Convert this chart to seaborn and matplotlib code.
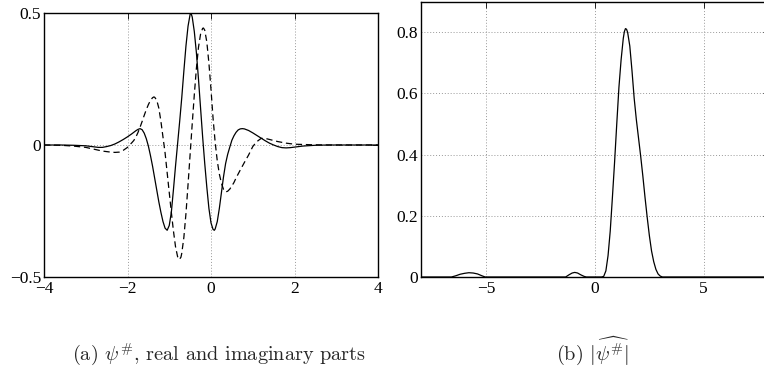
import matplotlib
matplotlib.use("Agg")
import matplotlib.pyplot as plt
import seaborn as sns

# (a) psi#, real part (solid) and imaginary part (dashed)
re_x = [-4.0, -3.6, -3.3, -3.0, -2.8, -2.7, -2.6, -2.5, -2.4, -2.3, -2.2, -2.1, -2.0,
        -1.9, -1.8, -1.75, -1.7, -1.65, -1.6, -1.55, -1.5, -1.45, -1.4, -1.35, -1.3,
        -1.25, -1.2, -1.15, -1.1, -1.05, -1.0, -0.95, -0.9, -0.85, -0.8, -0.75, -0.7,
        -0.65, -0.6, -0.55, -0.5, -0.48, -0.45, -0.4, -0.35, -0.3, -0.25, -0.2, -0.15,
        -0.1, -0.05, 0.0, 0.05, 0.08, 0.1, 0.15, 0.2, 0.25, 0.3, 0.35, 0.4, 0.45, 0.5,
        0.55, 0.6, 0.65, 0.7, 0.75, 0.8, 0.9, 1.0, 1.1, 1.2, 1.3, 1.4, 1.5, 1.6, 1.7,
        1.8, 1.9, 2.0, 2.2, 2.5, 2.8, 4.0]
re_y = [0.0, 0.0, -0.001, -0.003, -0.007, -0.009, -0.009, -0.006, -0.002, 0.004, 0.012,
        0.021, 0.031, 0.042, 0.054, 0.059, 0.062, 0.058, 0.045, 0.024, -0.004, -0.04,
        -0.08, -0.125, -0.17, -0.215, -0.255, -0.29, -0.315, -0.323, -0.305, -0.255,
        -0.17, -0.08, 0.005, 0.09, 0.18, 0.28, 0.375, 0.45, 0.495, 0.5, 0.485, 0.43,
        0.35, 0.25, 0.14, 0.03, -0.07, -0.16, -0.24, -0.295, -0.32, -0.323, -0.318,
        -0.29, -0.24, -0.18, -0.12, -0.07, -0.035, -0.008, 0.018, 0.035, 0.048, 0.057,
        0.061, 0.062, 0.061, 0.055, 0.046, 0.036, 0.026, 0.016, 0.007, 0.0, -0.006,
        -0.01, -0.011, -0.01, -0.008, -0.004, -0.001, 0.0, 0.0]

im_x = [-4.0, -3.6, -3.3, -3.0, -2.8, -2.6, -2.4, -2.3, -2.2, -2.1, -2.0, -1.95, -1.9,
        -1.85, -1.8, -1.75, -1.7, -1.65, -1.6, -1.55, -1.5, -1.45, -1.4, -1.37, -1.35,
        -1.3, -1.25, -1.2, -1.15, -1.1, -1.05, -1.0, -0.95, -0.9, -0.85, -0.8, -0.76,
        -0.72, -0.7, -0.65, -0.6, -0.55, -0.5, -0.45, -0.4, -0.35, -0.3, -0.25, -0.2,
        -0.18, -0.15, -0.1, -0.05, 0.0, 0.05, 0.1, 0.15, 0.2, 0.25, 0.3, 0.35, 0.4,
        0.45, 0.5, 0.55, 0.6, 0.7, 0.8, 0.9, 1.0, 1.05, 1.1, 1.2, 1.3, 1.4, 1.6, 1.8,
        2.0, 2.4, 2.8, 4.0]
im_y = [0.0, -0.001, -0.004, -0.009, -0.016, -0.023, -0.027, -0.028, -0.027, -0.02,
        -0.009, 0.0, 0.008, 0.017, 0.03, 0.047, 0.067, 0.089, 0.112, 0.134, 0.153,
        0.169, 0.179, 0.182, 0.181, 0.17, 0.14, 0.09, 0.03, -0.03, -0.105, -0.18,
        -0.255, -0.325, -0.385, -0.423, -0.434, -0.425, -0.41, -0.35, -0.26, -0.15,
        -0.035, 0.08, 0.19, 0.29, 0.37, 0.42, 0.442, 0.443, 0.435, 0.39, 0.31, 0.21,
        0.1, 0.01, -0.06, -0.11, -0.145, -0.168, -0.178, -0.175, -0.167, -0.155,
        -0.142, -0.125, -0.095, -0.066, -0.038, -0.006, 0.004, 0.013, 0.025, 0.025,
        0.021, 0.013, 0.007, 0.003, 0.001, 0.0, 0.0]

# (b) |hat psi#|
ft_x = [-8.0, -6.6, -6.4, -6.2, -6.0, -5.8, -5.6, -5.4, -5.2, -5.05, -1.35, -1.2,
        -1.05, -0.93, -0.8, -0.65, -0.5, -0.4, 0.3, 0.4, 0.5, 0.6, 0.7, 0.8, 0.9, 1.0,
        1.1, 1.2, 1.3, 1.35, 1.4, 1.45, 1.5, 1.6, 1.7, 1.8, 1.9, 2.0, 2.1, 2.2, 2.3,
        2.4, 2.5, 2.6, 2.7, 2.8, 2.9, 3.0, 3.1, 8.0]
ft_y = [0.0, 0.0, 0.004, 0.009, 0.012, 0.014, 0.013, 0.01, 0.004, 0.0, 0.0, 0.007,
        0.013, 0.015, 0.013, 0.007, 0.002, 0.0, 0.0, 0.002, 0.02, 0.07, 0.15, 0.26,
        0.375, 0.5, 0.62, 0.71, 0.78, 0.802, 0.812, 0.81, 0.8, 0.755, 0.675, 0.585,
        0.515, 0.455, 0.395, 0.33, 0.26, 0.195, 0.135, 0.085, 0.05, 0.025, 0.01,
        0.003, 0.0, 0.0]

sns.set_theme(style="white")
plt.rcParams["font.family"] = ["Liberation Serif", "DejaVu Serif"]
plt.rcParams["mathtext.fontset"] = "cm"
plt.rcParams["axes.unicode_minus"] = True

fig = plt.figure(figsize=(7.64, 3.73), dpi=100)
ax1 = fig.add_axes([44 / 764, 1 - 277 / 373, 334 / 764, 264 / 373])
ax2 = fig.add_axes([421 / 764, 1 - 277 / 373, 348 / 764, 275.3 / 373])

sns.lineplot(x=re_x, y=re_y, ax=ax1, color="black", linewidth=0.9)
sns.lineplot(x=im_x, y=im_y, ax=ax1, color="black", linewidth=0.9, linestyle="--")
ax1.lines[-1].set_dashes([5, 3])
ax1.set_xlim(-4, 4)
ax1.set_ylim(-0.5, 0.5)
ax1.set_xticks([-4, -2, 0, 2, 4])
ax1.set_yticks([-0.5, 0, 0.5])
ax1.set_yticklabels(["\u22120.5", "0", "0.5"])

sns.lineplot(x=ft_x, y=ft_y, ax=ax2, color="black", linewidth=0.9)
ax2.set_xlim(-8, 8)
ax2.set_ylim(0, 0.9)
ax2.set_xticks([-5, 0, 5])
ax2.set_yticks([0, 0.2, 0.4, 0.6, 0.8])
ax2.set_yticklabels(["0", "0.2", "0.4", "0.6", "0.8"])

for ax in (ax1, ax2):
    ax.grid(True, color="#999999", linestyle=(0, (1, 2)), linewidth=0.7)
    ax.tick_params(direction="in", length=4, width=0.6, top=True, right=True,
                   labelsize=12.5, colors="black")
    ax.tick_params(axis="x", pad=3)
    ax.tick_params(axis="y", pad=2)
    for sp in ax.spines.values():
        sp.set_color("black")
        sp.set_linewidth(1.0)
    ax.set_xlabel("")
    ax.set_ylabel("")

fig.text(72 / 764, 1 - 360 / 373, r"(a) $\psi^{\#}$, real and imaginary parts",
         fontsize=14.6, family="cmr10", va="baseline", ha="left")
fig.text(556 / 764, 1 - 360 / 373, r"(b) $|\widehat{\psi^{\#}}|$",
         fontsize=14.6, family="cmr10", va="baseline", ha="left")

fig.savefig("out.png", dpi=100)
